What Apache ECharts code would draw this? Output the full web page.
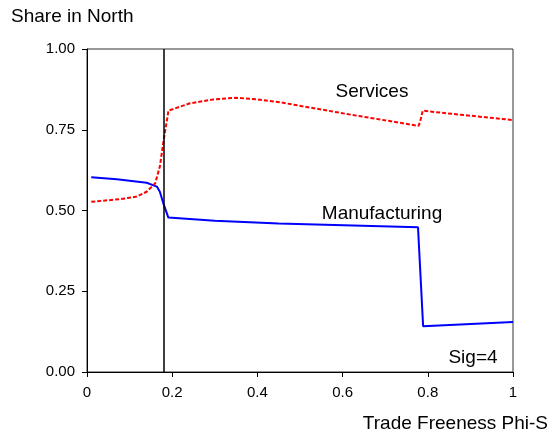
<!DOCTYPE html>
<html>
<head>
<meta charset="utf-8">
<script src="https://cdn.jsdelivr.net/npm/echarts@6/dist/echarts.min.js"></script>
<style>
  html, body { margin: 0; padding: 0; background: #fff; }
  #chart { width: 552px; height: 438px; }
</style>
</head>
<body>
<div id="chart"></div>
<script>
// Trade freeness (x) and regional shares (y)
const manufX = [0.01, 0.07, 0.14, 0.164, 0.171, 0.179, 0.191, 0.3, 0.45, 0.777, 0.789, 1.0];
const manufY = [0.603, 0.597, 0.586, 0.574, 0.558, 0.523, 0.478, 0.468, 0.460, 0.448, 0.142, 0.155];

const servX = [0.01, 0.077, 0.117, 0.14, 0.16, 0.171, 0.179, 0.185, 0.189, 0.191, 0.242, 0.297, 0.351, 0.398, 0.453, 0.609, 0.778, 0.782, 0.788, 0.844, 1.0];
const servY = [0.527, 0.535, 0.543, 0.558, 0.584, 0.636, 0.709, 0.759, 0.790, 0.809, 0.832, 0.844, 0.849, 0.844, 0.835, 0.799, 0.762, 0.775, 0.809, 0.801, 0.780];

const threshold = 0.178;
const xTicks = [0, 0.2, 0.4, 0.6, 0.8, 1];
const yTicks = [0, 0.25, 0.5, 0.75, 1];

const font = 'Liberation Sans, Arial, sans-serif';

function pairs(xs, ys) {
  return xs.map((x, i) => [x, ys[i]]);
}

const chart = echarts.init(document.getElementById('chart'));

const option = {
  animation: false,
  backgroundColor: '#fff',
  grid: {
    left: 87, right: 39, top: 49, bottom: 66,
    show: true, borderColor: '#333', borderWidth: 1
  },
  xAxis: {
    type: 'value', min: 0, max: 1, interval: 0.2,
    splitLine: { show: false },
    axisLine: { lineStyle: { color: '#000', width: 1 } },
    axisTick: { show: true, length: 5, lineStyle: { color: '#000' } },
    axisLabel: {
      color: '#000', fontFamily: font, fontSize: 15, margin: 13,
      formatter: v => {
        const t = xTicks.find(k => Math.abs(k - v) < 1e-9);
        return t === undefined ? '' : String(t);
      }
    }
  },
  yAxis: {
    type: 'value', min: 0, max: 1, interval: 0.25,
    splitLine: { show: false },
    axisLine: { show: true, lineStyle: { color: '#000', width: 1 } },
    axisTick: { show: true, length: 5, lineStyle: { color: '#000' } },
    axisLabel: {
      color: '#000', fontFamily: font, fontSize: 15, margin: 12,
      formatter: v => {
        const t = yTicks.find(k => Math.abs(k - v) < 1e-9);
        return t === undefined ? '' : t.toFixed(2);
      }
    }
  },
  series: [
    {
      name: 'Manufacturing',
      type: 'line',
      data: pairs(manufX, manufY),
      showSymbol: false,
      lineStyle: { color: '#0000ff', width: 2 },
      z: 3,
      markLine: {
        silent: true,
        symbol: 'none',
        label: { show: false },
        lineStyle: { color: '#000', width: 1.5, type: 'solid' },
        data: [{ xAxis: threshold }]
      }
    },
    {
      name: 'Services',
      type: 'line',
      data: pairs(servX, servY),
      showSymbol: false,
      lineStyle: { color: '#ff0000', width: 2, type: [4, 2] },
      z: 4
    }
  ],
  graphic: [
    { type: 'text', left: 11, top: 7,
      style: { text: 'Share in North', font: '19px ' + font, fill: '#000' } },
    { type: 'text', right: 4, top: 414,
      style: { text: 'Trade Freeness Phi-S', font: '19px ' + font, fill: '#000' } },
    { type: 'text', x: 372, y: 92,
      style: { text: 'Services', font: '19px ' + font, fill: '#000', align: 'center', verticalAlign: 'middle' } },
    { type: 'text', x: 382, y: 214,
      style: { text: 'Manufacturing', font: '19px ' + font, fill: '#000', align: 'center', verticalAlign: 'middle' } },
    { type: 'text', x: 473, y: 358,
      style: { text: 'Sig=4', font: '19px ' + font, fill: '#000', align: 'center', verticalAlign: 'middle' } }
  ]
};

chart.setOption(option);
</script>
</body>
</html>
